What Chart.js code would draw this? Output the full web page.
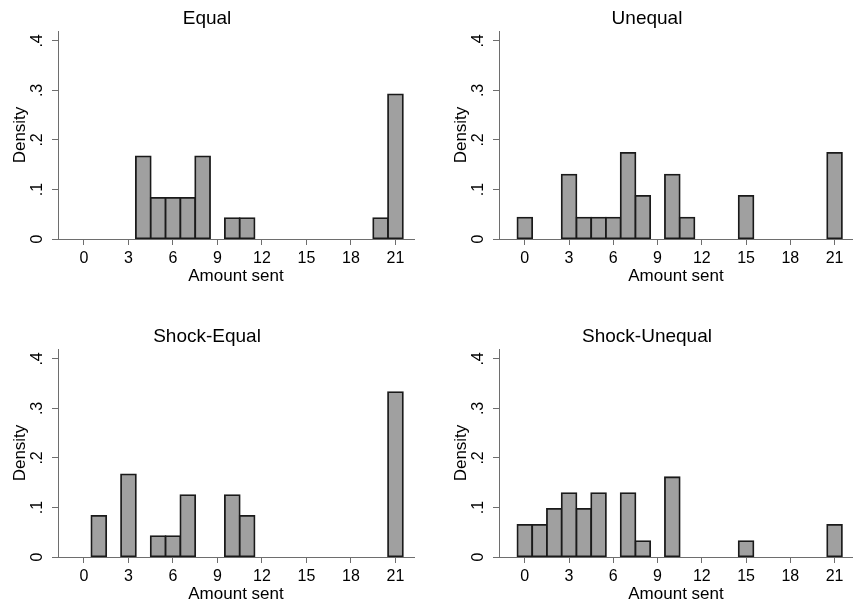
<!DOCTYPE html>
<html>
<head>
<meta charset="utf-8">
<title>Amount sent - density by treatment</title>
<script src="https://cdn.jsdelivr.net/npm/chart.js@4.4.1/dist/chart.umd.min.js"></script>
<style>
  body { margin: 0; background: #fff; overflow: hidden; }
  canvas { position: absolute; }
</style>
</head>
<body>
<canvas id="equal" width="426" height="287" style="left:0px;top:0px"></canvas>
<canvas id="unequal" width="412" height="287" style="left:441px;top:0px"></canvas>
<canvas id="shockEqual" width="426" height="287" style="left:0px;top:318px"></canvas>
<canvas id="shockUnequal" width="412" height="287" style="left:441px;top:318px"></canvas>
<script>
// amounts sent (bin centres) and the density of each bin
const equalAmounts = [4, 5, 6, 7, 8, 10, 11, 20, 21];
const equalDensity = [0.167, 0.083, 0.083, 0.083, 0.167, 0.042, 0.042, 0.042, 0.292];

const unequalAmounts = [0, 3, 4, 5, 6, 7, 8, 10, 11, 15, 21];
const unequalDensity = [0.043, 0.13, 0.043, 0.043, 0.043, 0.174, 0.087, 0.13, 0.043, 0.087, 0.174];

const shockEqualAmounts = [1, 3, 5, 6, 7, 10, 11, 21];
const shockEqualDensity = [0.083, 0.167, 0.042, 0.042, 0.125, 0.125, 0.083, 0.333];

const shockUnequalAmounts = [0, 1, 2, 3, 4, 5, 7, 8, 10, 15, 21];
const shockUnequalDensity = [0.065, 0.065, 0.097, 0.129, 0.097, 0.129, 0.129, 0.032, 0.161, 0.032, 0.065];

const xTicks = [0, 3, 6, 9, 12, 15, 18, 21];
const yTicks = [0, 0.1, 0.2, 0.3, 0.4];
const yTickLabels = ['0', '.1', '.2', '.3', '.4'];

Chart.defaults.font.family = '"Liberation Sans", Arial, Helvetica, sans-serif';
Chart.defaults.color = '#000';

const AXIS_GREY = '#6e6e6e';

function drawHistogram(canvasId, title, amounts, density, padRight) {
    const ctx = document.getElementById(canvasId).getContext('2d');
    return new Chart(ctx, {
        type: 'bar',
        data: {
            datasets: [{
                data: amounts.map((a, i) => ({ x: a, y: density[i] })),
                backgroundColor: '#a0a0a0',
                borderColor: '#1a1a1a',
                borderWidth: 1.8,
                borderSkipped: false,
                inflateAmount: 0.9,   // centre the outline on the bin edge, like Stata
                barPercentage: 1,
                categoryPercentage: 1
            }]
        },
        options: {
            responsive: false,
            animation: false,
            devicePixelRatio: 1,
            layout: { padding: { left: 0, top: 0, bottom: 0, right: padRight } },
            plugins: {
                legend: { display: false },
                tooltip: { enabled: false },
                title: {
                    display: true,
                    text: title,
                    color: '#000',
                    font: { size: 19, weight: 'normal' },
                    padding: { top: 6.9, bottom: 1.3 }
                }
            },
            scales: {
                x: {
                    type: 'linear',
                    min: -1.75,
                    max: 22.25,
                    offset: false,
                    afterBuildTicks: axis => { axis.ticks = xTicks.map(v => ({ value: v })); },
                    afterFit: axis => { axis.height = 48; },
                    grid: { offset: false, drawOnChartArea: false, drawTicks: true, tickLength: 6, color: AXIS_GREY },
                    border: { display: true, color: AXIS_GREY, width: 1 },
                    ticks: { color: '#000', font: { size: 16 }, padding: 4, maxRotation: 0, autoSkip: false },
                    title: { display: true, text: 'Amount sent', color: '#000', font: { size: 17 }, padding: { top: 0, bottom: 0.6 } }
                },
                y: {
                    min: 0,
                    max: 0.42,
                    afterBuildTicks: axis => { axis.ticks = yTicks.map(v => ({ value: v })); },
                    afterFit: axis => { axis.width = 58; },
                    grid: { drawOnChartArea: false, drawTicks: true, tickLength: 6, color: AXIS_GREY },
                    border: { display: true, color: AXIS_GREY, width: 1 },
                    ticks: {
                        color: '#000',
                        font: { size: 16 },
                        minRotation: 90,
                        maxRotation: 90,
                        crossAlign: 'center',
                        padding: 7.5,
                        autoSkip: false,
                        callback: (value, index) => yTickLabels[index]
                    },
                    title: { display: true, text: 'Density', color: '#000', font: { size: 17 }, padding: { top: 10.5, bottom: 0 } }
                }
            }
        }
    });
}

drawHistogram('equal', 'Equal', equalAmounts, equalDensity, 12);
drawHistogram('unequal', 'Unequal', unequalAmounts, unequalDensity, 0);
drawHistogram('shockEqual', 'Shock-Equal', shockEqualAmounts, shockEqualDensity, 12);
drawHistogram('shockUnequal', 'Shock-Unequal', shockUnequalAmounts, shockUnequalDensity, 0);
</script>
</body>
</html>
